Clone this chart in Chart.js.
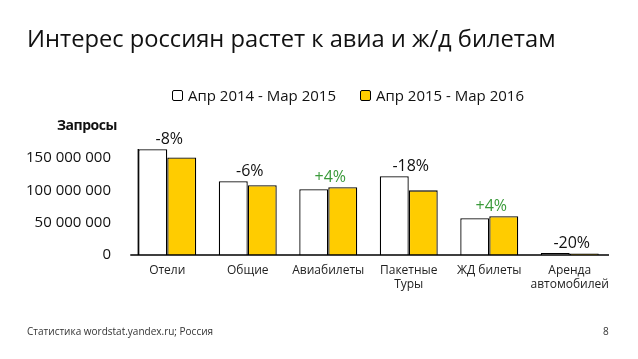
<!DOCTYPE html>
<html><head><meta charset="utf-8">
<script src="https://cdn.jsdelivr.net/npm/chart.js@4/dist/chart.umd.min.js"></script>
<style>
html,body{margin:0;padding:0;background:#fff;}
#wrap{position:relative;width:638px;height:359px;overflow:hidden;font-family:"Open Sans",sans-serif;color:#111;}
#c{position:absolute;left:0;top:0;}
.t{position:absolute;white-space:nowrap;}
#title{left:27px;top:22px;font-size:23.7px;color:#111;}
#ylab{left:57px;top:115px;font-size:14px;font-weight:bold;letter-spacing:-0.5px;}
#foot{left:27px;top:324px;font-size:10px;color:#333;}
#page{left:603px;top:324px;font-size:10px;color:#333;}
#legend{left:172px;top:85px;font-size:15px;}
.li{display:inline-block;margin-right:24px;}
.box{display:inline-block;width:9px;height:9px;border:1.3px solid #000;border-radius:2px;margin-right:5px;vertical-align:0px;}
</style></head>
<body><div id="wrap">
<canvas id="c" width="638" height="359"></canvas>
<div class="t" id="title">Интерес россиян растет к авиа и ж/д билетам</div>
<div class="t" id="legend"></div>
<div class="t" id="ylab">Запросы</div>
<div class="t" id="foot">Статистика wordstat.yandex.ru; Россия</div>
<div class="t" id="page">8</div>
</div>
<script>
const categories = ['Отели','Общие','Авиабилеты',['Пакетные','Туры'],'ЖД билеты',['Аренда','автомобилей']];
const seriesNames = ['Апр 2014 - Мар 2015','Апр 2015 - Мар 2016'];
const values2014 = [163600000,114000000,101700000,122000000,56800000,3000000];
const values2015 = [151000000,108000000,104800000,100000000,59900000,2400000];
const changeLabels = ['-8%','-6%','+4%','-18%','+4%','-20%'];
const yTicks = [0,50000000,100000000,150000000];
const colors = ['#ffffff','#ffcc00'];

const leg = document.getElementById('legend');
seriesNames.forEach((n,i)=>{
  const s=document.createElement('span');s.className='li';
  s.innerHTML='<span class="box" style="background:'+colors[i]+'"></span>'+n;
  leg.appendChild(s);
});

const fmt = v => String(v).replace(/\B(?=(\d{3})+(?!\d))/g,' ');

const overlay = {
  id:'overlay',
  afterDatasetsDraw(chart){
    const ctx=chart.ctx, ca=chart.chartArea;
    const m0=chart.getDatasetMeta(0), m1=chart.getDatasetMeta(1);
    const b0=m0.data[0];
    const ax=b0.x-b0.width/2;
    ctx.save();
    ctx.strokeStyle='#000';ctx.lineWidth=1.3;
    ctx.beginPath();
    ctx.moveTo(ax,ca.top);ctx.lineTo(ax,ca.bottom);
    ctx.moveTo(ax-8,ca.bottom);ctx.lineTo(ca.right-1,ca.bottom);
    ctx.stroke();
    ctx.font='16px "Open Sans", sans-serif';
    ctx.textAlign='center';ctx.textBaseline='middle';
    changeLabels.forEach((lab,i)=>{
      const top=Math.min(m0.data[i].y,m1.data[i].y);
      const x=(m0.data[i].x+m1.data[i].x)/2;
      ctx.fillStyle=lab.startsWith('+')?'#3a9a3a':'#111';
      ctx.fillText(lab,x+2,top-10);
    });
    ctx.restore();
  }
};

new Chart(document.getElementById('c'),{
  type:'bar',
  data:{labels:categories,datasets:[
    {label:seriesNames[0],data:values2014,backgroundColor:colors[0],borderColor:'#000',borderWidth:1.3},
    {label:seriesNames[1],data:values2015,backgroundColor:colors[1],borderColor:'#000',borderWidth:1.3}
  ]},
  options:{
    responsive:false,animation:false,
    layout:{padding:{left:27,right:28,top:149,bottom:0}},
    datasets:{bar:{categoryPercentage:0.72,barPercentage:1.0}},
    plugins:{legend:{display:false},tooltip:{enabled:false}},
    scales:{
      x:{grid:{display:false,drawTicks:false},border:{display:false},
         ticks:{color:'#222',font:{family:'"Open Sans", sans-serif',size:12},padding:8,maxRotation:0,autoSkip:false},
         afterFit(s){s.height=104;}},
      y:{min:0,max:164000000,grid:{display:false,drawTicks:false},border:{display:false},
         afterBuildTicks(s){s.ticks=yTicks.map(v=>({value:v}));},
         ticks:{color:'#111',font:{family:'"Open Sans", sans-serif',size:15},padding:16,callback:v=>fmt(v)},
         afterFit(s){s.width=100;}}
    }
  },
  plugins:[overlay]
});
</script>
</body></html>
